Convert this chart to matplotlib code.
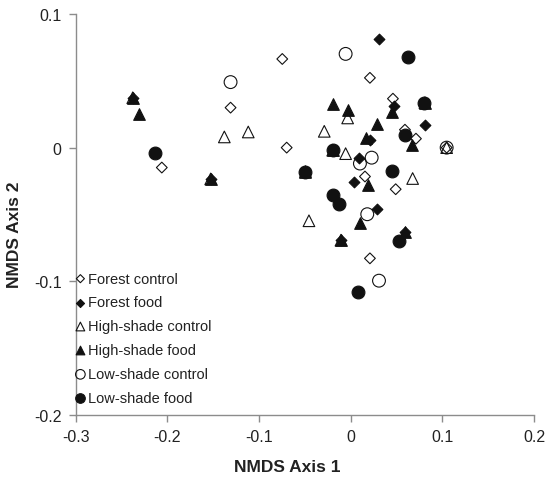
import matplotlib
matplotlib.use('Agg')
import matplotlib.pyplot as plt

plt.rcParams['font.family'] = ['Liberation Sans', 'DejaVu Sans']
plt.rcParams['axes.unicode_minus'] = False

# NMDS scores, one pair of lists per group
forest_control_x = [-0.206, -0.131, -0.0746, -0.0698, 0.021, 0.0592, 0.0461, 0.0712, 0.0156, 0.0491, 0.021, 0.1047]
forest_control_y = [-0.0149, 0.0299, 0.0663, 0.0, 0.0522, 0.0134, 0.0366, 0.0067, -0.0216, -0.0311, -0.0828, 0.0]

forest_food_x = [-0.2377, -0.1527, -0.0493, 0.0312, 0.081, 0.0475, 0.021, 0.0091, 0.0036, 0.0284, -0.0106, 0.0592]
forest_food_y = [0.0373, -0.0234, -0.0179, 0.0813, 0.0172, 0.0311, 0.0054, -0.0075, -0.0256, -0.046, -0.0692, -0.0629]

hs_control_x = [-0.2377, -0.1378, -0.1117, -0.1527, -0.0288, -0.0033, -0.0055, 0.0676, -0.0455, -0.0106, 0.1047, -0.0493, -0.0196, 0.081]
hs_control_y = [0.0373, 0.008, 0.0117, -0.0234, 0.0122, 0.0222, -0.0045, -0.0231, -0.0547, -0.0692, 0.0, -0.0179, -0.0019, 0.0336]

hs_food_x = [-0.2377, -0.2309, -0.1527, -0.019, -0.0033, 0.0284, 0.0447, 0.0167, 0.0665, 0.0192, 0.0101, -0.0106, 0.0592, -0.0493, -0.0196, 0.081]
hs_food_y = [0.0373, 0.0254, -0.0234, 0.0328, 0.0278, 0.0174, 0.0266, 0.0072, 0.0017, -0.0276, -0.056, -0.0692, -0.0629, -0.0179, -0.0019, 0.0336]

ls_control_x = [-0.131, -0.0055, 0.0229, 0.0101, 0.0181, 0.0309, 0.1047]
ls_control_y = [0.049, 0.0701, -0.0075, -0.0119, -0.0498, -0.0995, 0.0]

ls_food_x = [-0.2134, -0.0493, 0.0622, 0.0803, 0.0592, -0.0196, 0.0447, -0.019, -0.0124, 0.0527, 0.0076]
ls_food_y = [-0.004, -0.0179, 0.0681, 0.0336, 0.0092, -0.0015, -0.0174, -0.0356, -0.0425, -0.0696, -0.1082]

x_ticks = [-0.3, -0.2, -0.1, 0, 0.1, 0.2]
y_ticks = [-0.2, -0.1, 0, 0.1]

fig = plt.figure(figsize=(5.48, 4.81), dpi=100)
ax = fig.add_axes([0.138, 0.135, 0.8365, 0.834])

ink = '#111111'
# open markers have no fill, so overlapping outlines stay visible
ax.scatter(forest_control_x, forest_control_y, marker='D', s=30, facecolor='none', edgecolor=ink, linewidth=0.8, label='Forest control')
ax.scatter(forest_food_x, forest_food_y, marker='D', s=30, facecolor=ink, edgecolor=ink, linewidth=0.8, label='Forest food')
ax.scatter(hs_control_x, hs_control_y, marker='^', s=70, facecolor='none', edgecolor=ink, linewidth=0.8, label='High-shade control')
ax.scatter(hs_food_x, hs_food_y, marker='^', s=70, facecolor=ink, edgecolor=ink, linewidth=0.8, label='High-shade food')
ax.scatter(ls_control_x, ls_control_y, marker='o', s=85, facecolor='none', edgecolor=ink, linewidth=0.8, label='Low-shade control')
ax.scatter(ls_food_x, ls_food_y, marker='o', s=85, facecolor=ink, edgecolor=ink, linewidth=0.8, label='Low-shade food')

ax.set_xlim(-0.3, 0.2)
ax.set_ylim(-0.2, 0.1)
ax.set_xticks(x_ticks)
ax.set_xticklabels(['-0.3', '-0.2', '-0.1', '0', '0.1', '0.2'])
ax.set_yticks(y_ticks)
ax.set_yticklabels(['-0.2', '-0.1', '0', '0.1'])

for side in ['top', 'right']:
    ax.spines[side].set_visible(False)
for side in ['left', 'bottom']:
    ax.spines[side].set_color('#8c8c8c')
    ax.spines[side].set_linewidth(1.0)
ax.tick_params(direction='out', length=5, width=1, color='#8c8c8c', labelsize=11.5, labelcolor='#222222', pad=5)

fig.text(287 / 548, 1 - 468 / 481, 'NMDS Axis 1', ha='center', va='center', fontsize=12.5, fontweight='bold', color='#222222')
fig.text(15 / 548, 1 - 235 / 481, 'NMDS Axis 2', ha='center', va='center', rotation=90, fontsize=12.5, fontweight='bold', color='#222222')

leg = ax.legend(loc='upper left', bbox_to_anchor=(76 / 548, 1 - 272.5 / 481), bbox_transform=fig.transFigure,
                frameon=False, fontsize=10.5, handlelength=0.6, handletextpad=0.25, labelspacing=0.68,
                borderaxespad=0, borderpad=0, markerscale=0.75)
for t in leg.get_texts():
    t.set_color('#222222')

fig.savefig('out.png', dpi=100)
